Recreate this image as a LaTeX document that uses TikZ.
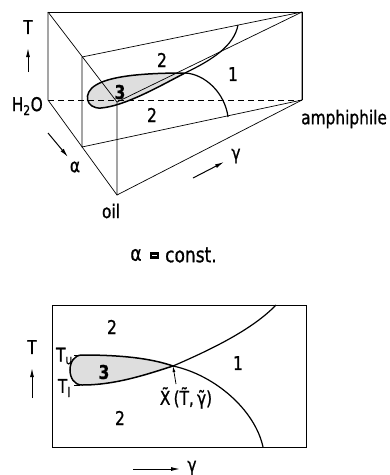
\documentclass[tikz,border=0pt]{standalone}
\usepackage{fontspec}
\setmainfont{DejaVu Sans}[FakeStretch=0.81, FakeBold=0.9]
\usetikzlibrary{arrows.meta}
\begin{document}
\begin{tikzpicture}[x=1pt,y=-1pt,
  edge/.style={line width=0.7pt},
  curve/.style={line width=1.2pt},
  loopline/.style={line width=1.5pt, fill=black!13},
  lab/.style={font=\fontsize{19}{22}\selectfont, inner sep=0pt},
  blab/.style={font=\fontsize{19}{22}\selectfont\bfseries, inner sep=0pt},
  axarrow/.style={line width=1pt,-{Latex[length=9pt,width=4pt]}},
]
\useasboundingbox (0,0) rectangle (390,475);
% ---------- prism ----------
\coordinate (A) at (48,12);
\coordinate (B) at (302,12);
\coordinate (H) at (48,100);
\coordinate (M) at (302,100);
\coordinate (Ot) at (117,102);
\coordinate (O) at (117,195);
% alpha = const plane
\coordinate (P1) at (82,57);
\coordinate (P2) at (82,147);
% loop (3D)
\coordinate (tip) at (185,73);
\coordinate (ue) at (238,25);
\coordinate (le) at (228,117);
\draw[loopline] (tip) .. controls (150,73) and (112,75) .. (96,85)
   .. controls (82,93) and (86,109) .. (101,108)
   .. controls (125,106) and (160,86) .. (tip);
\draw[edge] (A) -- (B) -- (M);
\draw[edge] (A) -- (H) -- (O) -- (M);
\draw[edge] (A) -- (Ot) -- (O);
\draw[edge] (Ot) -- (B);
\draw[edge, dash pattern=on 6pt off 4pt] (H) -- (M);
\draw[edge] (P1) -- (P2) -- (M) -- (B) -- (P1);
\draw[curve] (tip) .. controls (212,60) and (234,46) .. (ue);
\draw[curve] (tip) .. controls (205,74) and (225,93) .. (le);
\node[lab] (n2a) at (162,60) {2};
\node[lab] (n1a) at (233,74) {1};
\node[lab] (n2b) at (152,115) {2};
\node[blab] (n3a) at (120,92) {3};
\node[lab] (Tl) at (28,27) {T};
\coordinate (ta1) at (28,72);
\coordinate (ta2) at (28,48);
\draw[axarrow] (ta1) -- (ta2);
\node[lab, anchor=east] (water) at (43,106) {H\textsubscript{2}O};
\coordinate (aa1) at (48,133);
\coordinate (aa2) at (68,157);
\draw[axarrow] (aa1) -- (aa2);
\node[lab] (alpha) at (75,167) {α};
\node[lab] (oil) at (111,211) {oil};
\node[lab, anchor=west] (amph) at (301,119) {amphiphile};
\coordinate (ga1) at (193,178);
\coordinate (ga2) at (224,162);
\draw[axarrow] (ga1) -- (ga2);
\node[lab] (gamma) at (236,156) {γ};
% ---------- caption ----------
\node[lab, font=\fontsize{21}{24}\selectfont] (capa) at (136,255) {α};
\coordinate (cb1) at (151,253.5);
\coordinate (cb2) at (158,257.5);
\draw[line width=2.2pt] (cb1) rectangle (cb2);
\node[lab, font=\fontsize{21}{24}\selectfont, anchor=west] (capc) at (165,255) {const.};
% ---------- section ----------
\coordinate (R1) at (52,305);
\coordinate (R2) at (306,447);
\coordinate (X) at (173,366);
\coordinate (xu) at (276,305);
\coordinate (xl) at (263,447);
\draw[loopline] (82,355) .. controls (120,355) and (150,358) .. (X)
   .. controls (145,375) and (115,385) .. (82,385)
   .. controls (66,385) and (66,355) .. (82,355);
\draw[edge] (R1) rectangle (R2);
\draw[curve] (X) .. controls (210,350) and (252,330) .. (xu);
\draw[curve] (X) .. controls (215,375) and (255,410) .. (xl);
\node[lab] (s2a) at (112,327) {2};
\node[lab] (s1) at (238,363) {1};
\node[lab] (s2b) at (120,418) {2};
\node[blab] (s3) at (104,372) {3};
\node[lab, anchor=east] (Tu) at (73,356) {T\textsubscript{u}};
\node[lab, anchor=east] (Tlow) at (71,388) {T\textsubscript{l}};
\coordinate (tu1) at (74,355); \coordinate (tu2) at (80,355);
\coordinate (tl1) at (74,385); \coordinate (tl2) at (80,385);
\draw[edge] (tu1) -- (tu2);
\draw[edge] (tl1) -- (tl2);
\node[lab] (T2) at (32,347) {T};
\coordinate (tb1) at (32,398);
\coordinate (tb2) at (32,368);
\draw[axarrow] (tb1) -- (tb2);
\node[lab] (xlab) at (186,398) {X^^^^0303\,(T^^^^0303,\,γ^^^^0303)};
\coordinate (xa1) at (176,384);
\draw[line width=0.8pt,-{Latex[length=6pt,width=3pt]}] (xa1) -- (X);
\coordinate (gb1) at (133,469);
\coordinate (gb2) at (180,469);
\draw[axarrow] (gb1) -- (gb2);
\node[lab] (gamma2) at (192,468) {γ};
\end{tikzpicture}
\end{document}
